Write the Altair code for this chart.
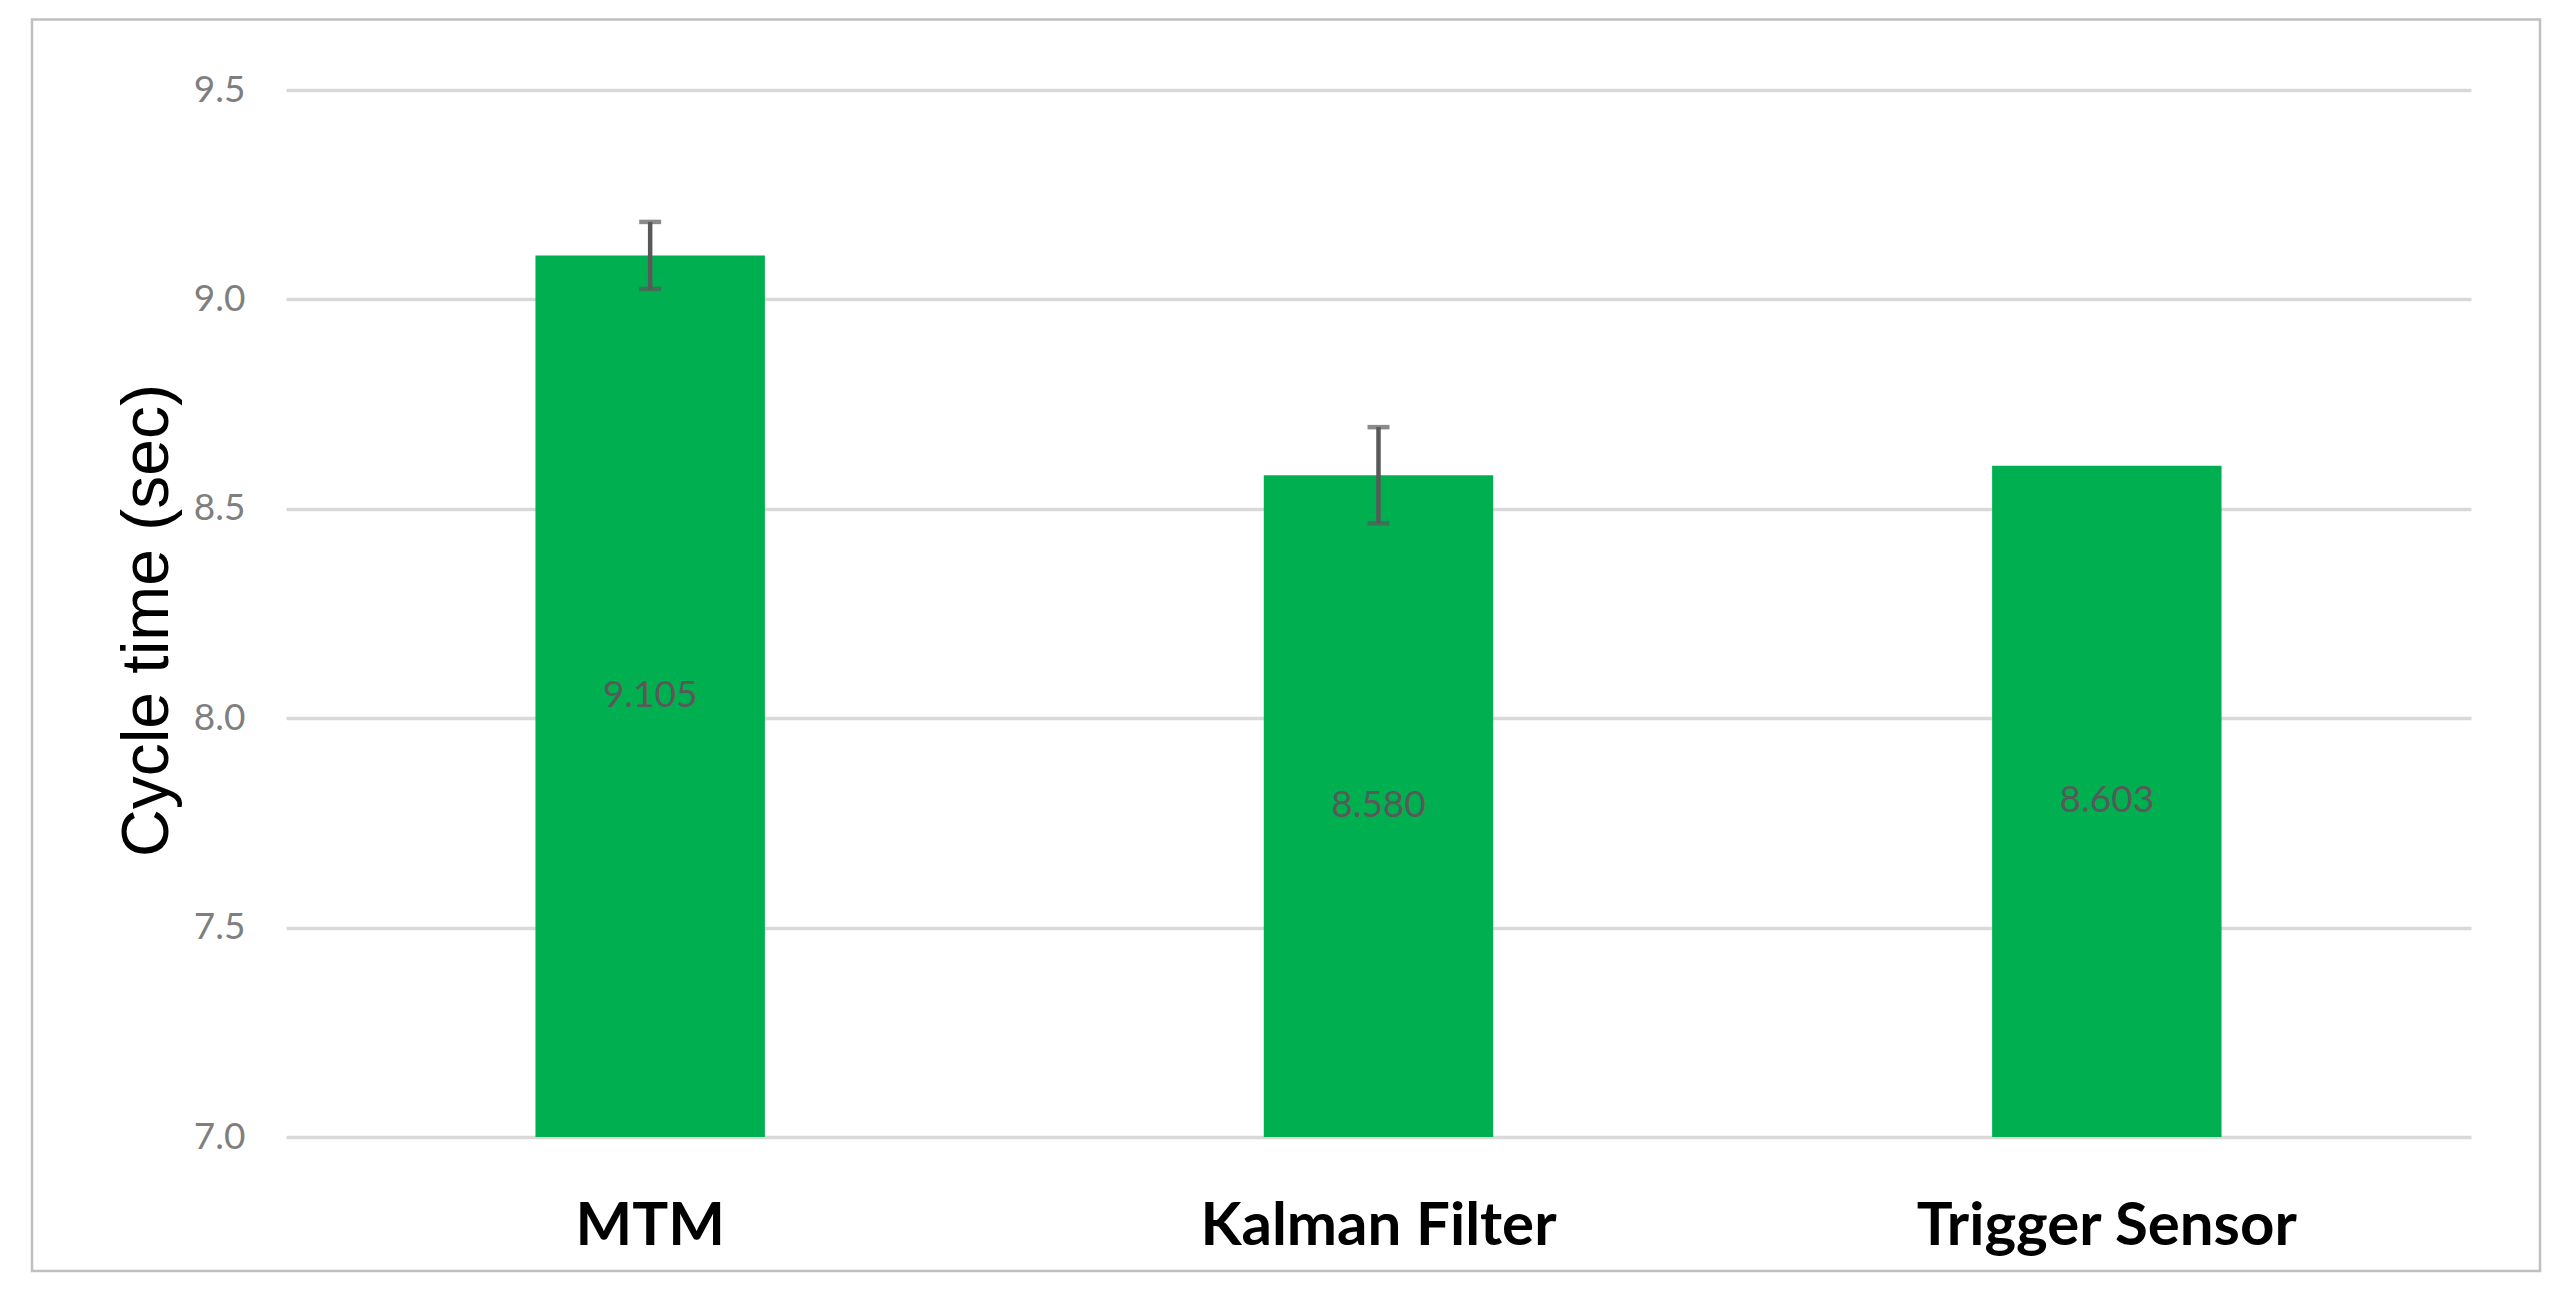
import altair as alt
import pandas as pd

# ---- data ----
methods = ["MTM", "Kalman Filter", "Trigger Sensor"]
cycle_time = [9.105, 8.580, 8.603]
error = [0.08, 0.115, None]          # Trigger Sensor has no error bar
value_labels = ["9.105", "8.580", "8.603"]
y_ticks = [7.0, 7.5, 8.0, 8.5, 9.0, 9.5]
y_floor = 7.0
y_top = 9.5

df = pd.DataFrame({"method": methods, "value": cycle_time, "err": error, "label": value_labels})
frame_df = pd.DataFrame({"k": [0]})

W, H = 2185, 1047
GREEN = "#00B050"
DARK = "#595959"

x_enc = alt.X(
    "method:N",
    sort=methods,
    scale=alt.Scale(paddingInner=0.685, paddingOuter=0.3425),
    axis=alt.Axis(
        title=None, labelAngle=0, labelFont="Lato", labelFontWeight="bold",
        labelFontSize=60, labelColor="#000000", labelPadding=107, labelLimit=0,
        labelBaseline="alphabetic", ticks=False, tickSize=0, domain=False, grid=False,
    ),
)

yscale = alt.Scale(domain=[y_floor, y_top], zero=False, nice=False)
y_axis = alt.Axis(
    title="Cycle time (sec)", titleFont="Liberation Sans", titleFontSize=66,
    titleFontWeight="normal", titleColor="#000000", titleX=-119, titleY=530,
    titleAlign="center", titleBaseline="alphabetic", titleLimit=0,
    values=y_ticks, format=".1f", labelFont="Lato", labelFontSize=37,
    labelColor="#7f7f7f", labelPadding=41, labelAlign="right", labelBaseline="middle",
    ticks=False, tickSize=0, domain=False, grid=True, gridColor="#d9d9d9", gridWidth=3.5,
)

base = alt.Chart(df).transform_calculate(
    base=f"{y_floor}",
    mid=f"({y_floor} + datum.value) / 2",
    lo="datum.value - datum.err",
    hi="datum.value + datum.err",
)

bars = base.mark_bar(color=GREEN).encode(
    x=x_enc,
    y=alt.Y("value:Q", scale=yscale, axis=y_axis),
    y2="base:Q",
)

labels = base.mark_text(font="Lato", fontSize=37, color=DARK, baseline="middle", align="center").encode(
    x=x_enc,
    y=alt.Y("mid:Q", scale=yscale, axis=y_axis),
    text="label:N",
)

err_base = base.transform_filter("isValid(datum.err)")
err_rule = err_base.mark_rule(color=DARK, strokeWidth=4.5).encode(
    x=x_enc,
    y=alt.Y("lo:Q", scale=yscale, axis=y_axis),
    y2="hi:Q",
)
cap_lo = err_base.mark_tick(color=DARK, size=22, thickness=4.5, orient="horizontal").encode(
    x=x_enc, y=alt.Y("lo:Q", scale=yscale, axis=y_axis)
)
cap_hi = err_base.mark_tick(color=DARK, size=22, thickness=4.5, orient="horizontal").encode(
    x=x_enc, y=alt.Y("hi:Q", scale=yscale, axis=y_axis)
)

frame = alt.Chart(frame_df).mark_rect(fillOpacity=0, stroke="#bfbfbf", strokeWidth=2.5).encode(
    x=alt.value(-254), x2=alt.value(2254), y=alt.value(-70.5), y2=alt.value(1181)
)

chart = (
    alt.layer(bars, labels, err_rule, cap_lo, cap_hi, frame)
    .properties(
        width=W, height=H,
        padding={"left": 278, "top": 82, "right": 85, "bottom": 143},
        autosize=alt.AutoSizeParams(type="none"),
        background="#ffffff",
    )
    .configure_view(stroke=None)
)

chart.save("out.html", embed_options={"renderer": "svg", "actions": False})
